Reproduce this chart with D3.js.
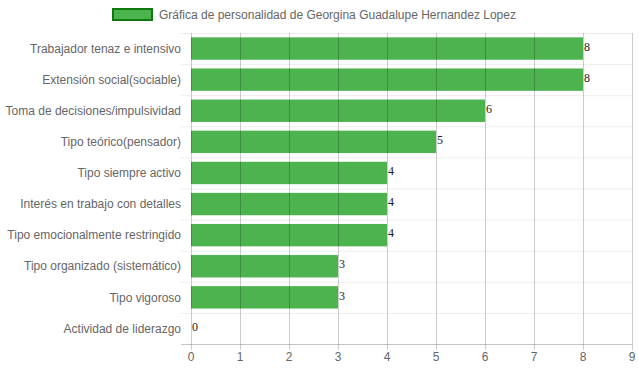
<!DOCTYPE html>
<meta charset="utf-8">
<script src="https://d3js.org/d3.v7.min.js"></script>
<style>
  body { margin: 0; background: #fff; }
  text { font-family: "Liberation Sans", Arial, sans-serif; }
  text.val { font-family: "Liberation Serif", "DejaVu Serif", serif; }
</style>
<div id="my_dataviz"></div>
<script>

// data
var categories = [
  "Trabajador tenaz e intensivo",
  "Extensión social(sociable)",
  "Toma de decisiones/impulsividad",
  "Tipo teórico(pensador)",
  "Tipo siempre activo",
  "Interés en trabajo con detalles",
  "Tipo emocionalmente restringido",
  "Tipo organizado (sistemático)",
  "Tipo vigoroso",
  "Actividad de liderazgo"
];
var values = [8, 8, 6, 5, 4, 4, 4, 3, 3, 0];
var xTicks = [0, 1, 2, 3, 4, 5, 6, 7, 8, 9];
var seriesName = "Gráfica de personalidad de Georgina Guadalupe Hernandez Lopez";

var width = 639, height = 372;
var margin = {top: 33, right: 7, bottom: 28, left: 191};

var svg = d3.select("#my_dataviz")
  .append("svg")
    .attr("width", width)
    .attr("height", height);

var x = d3.scaleLinear()
  .domain([0, 9])
  .range([margin.left, width - margin.right]);

var y = d3.scaleBand()
  .domain(categories)
  .range([margin.top, height - margin.bottom]);

var barH = y.bandwidth() * 0.72;

// bars
svg.selectAll("rect.bar")
  .data(values)
  .enter()
  .append("rect")
    .attr("class", "bar")
    .attr("x", x(0))
    .attr("y", function(d, i) { return y(categories[i]) + (y.bandwidth() - barH) / 2; })
    .attr("width", function(d) { return x(d) - x(0); })
    .attr("height", barH)
    .style("fill", "#4db34f");

// horizontal grid (band boundaries)
var bounds = categories.map(function(c) { return y(c); });
svg.selectAll("line.hgrid")
  .data(bounds)
  .enter()
  .append("line")
    .attr("x1", x(0) - 10)
    .attr("x2", x(9))
    .attr("y1", function(d) { return d + 0.5; })
    .attr("y2", function(d) { return d + 0.5; })
    .style("stroke", "rgba(0,0,0,0.07)");

// vertical grid
svg.selectAll("line.vgrid")
  .data(xTicks)
  .enter()
  .append("line")
    .attr("x1", function(d) { return Math.round(x(d)) + 0.5; })
    .attr("x2", function(d) { return Math.round(x(d)) + 0.5; })
    .attr("y1", margin.top)
    .attr("y2", height - margin.bottom + 6)
    .style("stroke", "rgba(0,0,0,0.2)");

// bottom axis line
svg.append("line")
  .attr("x1", x(0) - 10)
  .attr("x2", x(9))
  .attr("y1", height - margin.bottom + 0.5)
  .attr("y2", height - margin.bottom + 0.5)
  .style("stroke", "rgba(0,0,0,0.22)");

// x tick labels
svg.selectAll("text.xt")
  .data(xTicks)
  .enter()
  .append("text")
    .attr("x", function(d) { return x(d); })
    .attr("y", height - margin.bottom + 17)
    .attr("text-anchor", "middle")
    .style("font-size", "12px")
    .style("fill", "#666")
    .text(function(d) { return d; });

// category labels
svg.selectAll("text.cat")
  .data(categories)
  .enter()
  .append("text")
    .attr("x", x(0) - 10)
    .attr("y", function(d) { return y(d) + y.bandwidth() / 2; })
    .attr("dy", "0.35em")
    .attr("text-anchor", "end")
    .style("font-size", "12px")
    .style("fill", "#666")
    .text(function(d) { return d; });

// value labels
svg.selectAll("text.val")
  .data(values)
  .enter()
  .append("text")
    .attr("class", "val")
    .attr("x", function(d) { return x(d) + 1; })
    .attr("y", function(d, i) { return y(categories[i]) + y.bandwidth() / 2 - 2; })
    .attr("dy", "0.35em")
    .style("font-size", "12px")
    .style("fill", "#222")
    .text(function(d) { return d; });

// legend
svg.append("rect")
  .attr("x", 113)
  .attr("y", 9)
  .attr("width", 39)
  .attr("height", 11)
  .style("fill", "#4db34f")
  .style("stroke", "#0e7a0e")
  .style("stroke-width", 2);

svg.append("text")
  .attr("x", 159)
  .attr("y", 14.5)
  .attr("dy", "0.35em")
  .style("font-size", "12px")
  .style("fill", "#666")
  .text(seriesName);

</script>
